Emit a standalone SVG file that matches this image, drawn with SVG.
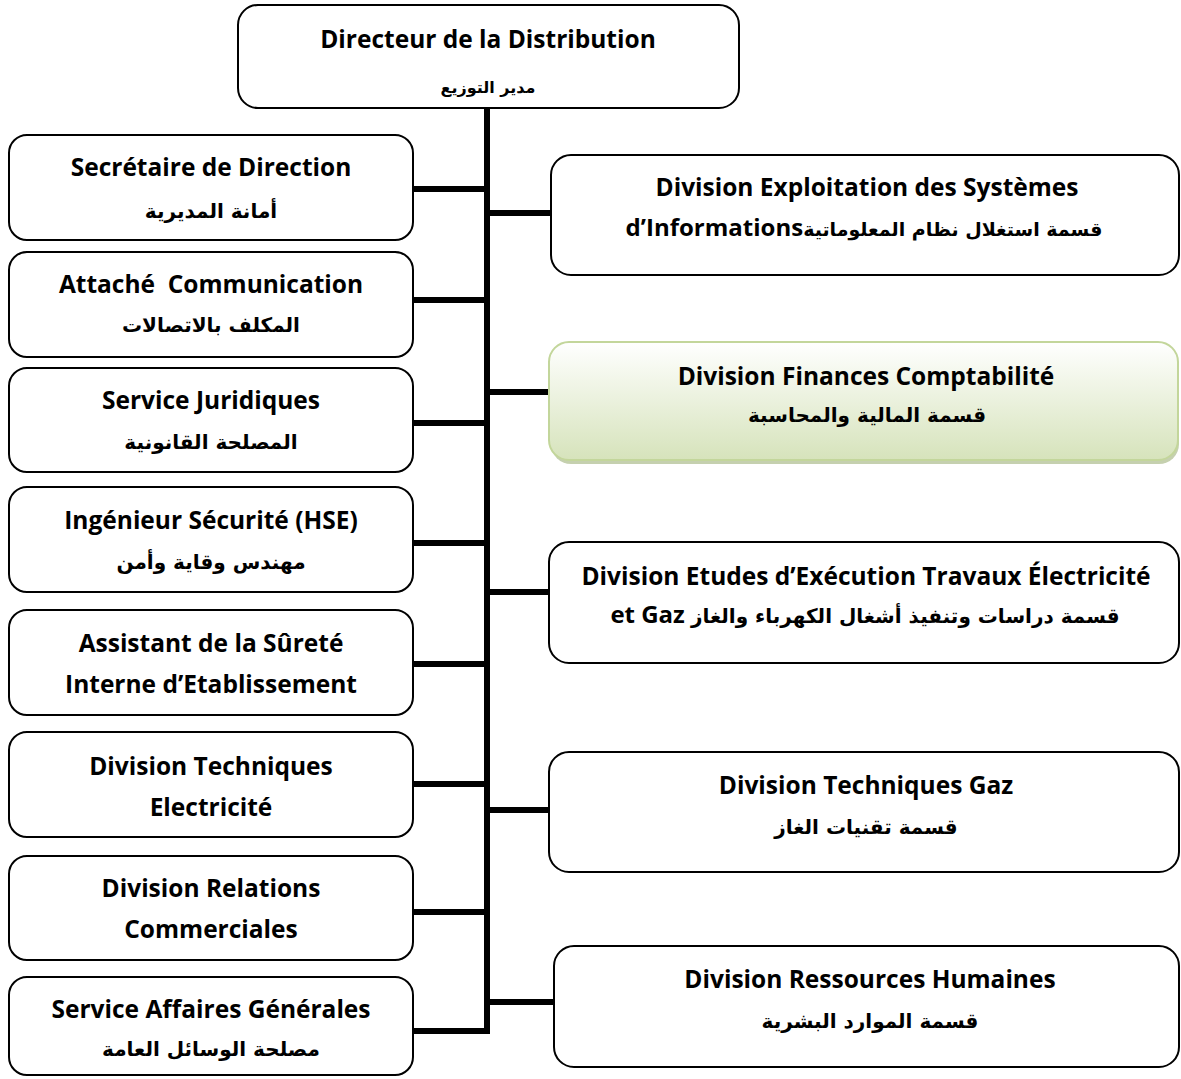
<svg xmlns="http://www.w3.org/2000/svg" width="1181" height="1079" viewBox="0 0 1181 1079">
<defs>
<style>
.box{fill:#fff;stroke:#000;stroke-width:2}
.fr{font-family:"Open Sans","Liberation Sans",sans-serif;font-weight:bold;font-size:24.5px;fill:#000;text-anchor:middle}
.ar{font-family:"DejaVu Sans",sans-serif;font-weight:bold;font-size:20px;fill:#000;text-anchor:middle}
.mix{font-family:"Open Sans","DejaVu Sans",sans-serif;font-weight:bold;font-size:24px;fill:#000;text-anchor:middle}
.mixar{font-family:"DejaVu Sans",sans-serif;font-size:19px}
.con{stroke:#000;stroke-width:6;fill:none}
</style>
<linearGradient id="green" x1="0" y1="0" x2="0" y2="1">
<stop offset="0" stop-color="#ffffff"/>
<stop offset="1" stop-color="#d6e3bb"/>
</linearGradient>
</defs>
<rect width="1181" height="1079" fill="#fff"/>
<g id="connectors">
<line class="con" x1="487" y1="108" x2="487" y2="1034"/>
<line class="con" x1="413" y1="189" x2="487" y2="189"/>
<line class="con" x1="413" y1="300" x2="487" y2="300"/>
<line class="con" x1="413" y1="423" x2="487" y2="423"/>
<line class="con" x1="413" y1="543" x2="487" y2="543"/>
<line class="con" x1="413" y1="664" x2="487" y2="664"/>
<line class="con" x1="413" y1="784" x2="487" y2="784"/>
<line class="con" x1="413" y1="912" x2="487" y2="912"/>
<line class="con" x1="413" y1="1031" x2="490" y2="1031"/>
<line class="con" x1="487" y1="213" x2="551" y2="213"/>
<line class="con" x1="487" y1="392" x2="549" y2="392"/>
<line class="con" x1="487" y1="592" x2="549" y2="592"/>
<line class="con" x1="487" y1="810" x2="549" y2="810"/>
<line class="con" x1="487" y1="1002" x2="554" y2="1002"/>
</g>
<g id="n-directeur">
<rect class="box" x="238" y="5" width="501" height="103" rx="20"/>
<text class="fr" x="488" y="48">Directeur de la Distribution</text>
<text class="ar" x="488" y="93" style="font-size:16px">مدير التوزيع</text>
</g>
<g id="n-secretaire">
<rect class="box" x="9" y="135" width="404" height="105" rx="18"/>
<text class="fr" x="211" y="176">Secrétaire de Direction</text>
<text class="ar" x="211" y="218">أمانة المديرية</text>
</g>
<g id="n-attache">
<rect class="box" x="9" y="252" width="404" height="105" rx="18"/>
<text class="fr" x="211" y="293" xml:space="preserve">Attaché  Communication</text>
<text class="ar" x="211" y="332">المكلف بالاتصالات</text>
</g>
<g id="n-juridiques">
<rect class="box" x="9" y="368" width="404" height="104" rx="18"/>
<text class="fr" x="211" y="409">Service Juridiques</text>
<text class="ar" x="211" y="449">المصلحة القانونية</text>
</g>
<g id="n-hse">
<rect class="box" x="9" y="487" width="404" height="105" rx="18"/>
<text class="fr" x="211" y="529">Ingénieur Sécurité (HSE)</text>
<text class="ar" x="211" y="569">مهندس وقاية وأمن</text>
</g>
<g id="n-surete">
<rect class="box" x="9" y="610" width="404" height="105" rx="18"/>
<text class="fr" x="211" y="652">Assistant de la Sûreté</text>
<text class="fr" x="211" y="693">Interne d’Etablissement</text>
</g>
<g id="n-tech-elec">
<rect class="box" x="9" y="732" width="404" height="105" rx="18"/>
<text class="fr" x="211" y="775">Division Techniques</text>
<text class="fr" x="211" y="816">Electricité</text>
</g>
<g id="n-relations">
<rect class="box" x="9" y="856" width="404" height="104" rx="18"/>
<text class="fr" x="211" y="897">Division Relations</text>
<text class="fr" x="211" y="938">Commerciales</text>
</g>
<g id="n-affaires">
<rect class="box" x="9" y="977" width="404" height="98" rx="18"/>
<text class="fr" x="211" y="1018">Service Affaires Générales</text>
<text class="ar" x="211" y="1056">مصلحة الوسائل العامة</text>
</g>
<g id="n-exploitation">
<rect class="box" x="551" y="155" width="628" height="120" rx="20"/>
<text class="fr" x="867" y="196">Division Exploitation des Systèmes</text>
<text class="mix" x="864" y="236" direction="rtl"><tspan class="mixar">قسمة استغلال نظام المعلوماتية</tspan>d’Informations</text>
</g>
<g id="n-finances">
<rect x="551" y="346" width="628" height="118" rx="20" fill="#9fb07a" opacity="0.6"/>
<rect x="549" y="342" width="629" height="118" rx="20" fill="url(#green)" stroke="#c3d69b" stroke-width="2"/>
<text class="fr" x="866" y="385">Division Finances Comptabilité</text>
<text class="ar" x="867" y="422">قسمة المالية والمحاسبة</text>
</g>
<g id="n-etudes">
<rect class="box" x="549" y="542" width="630" height="121" rx="20"/>
<text class="fr" x="866" y="585">Division Etudes d’Exécution Travaux Électricité</text>
<text class="mix" x="865" y="623" direction="rtl"><tspan class="mixar" style="font-size:20px">قسمة دراسات وتنفيذ أشغال الكهرباء والغاز</tspan> et Gaz</text>
</g>
<g id="n-tech-gaz">
<rect class="box" x="549" y="752" width="630" height="120" rx="20"/>
<text class="fr" x="866" y="794">Division Techniques Gaz</text>
<text class="ar" x="866" y="834">قسمة تقنيات الغاز</text>
</g>
<g id="n-rh">
<rect class="box" x="554" y="946" width="625" height="121" rx="20"/>
<text class="fr" x="870" y="988">Division Ressources Humaines</text>
<text class="ar" x="870" y="1028">قسمة الموارد البشرية</text>
</g>
</svg>
